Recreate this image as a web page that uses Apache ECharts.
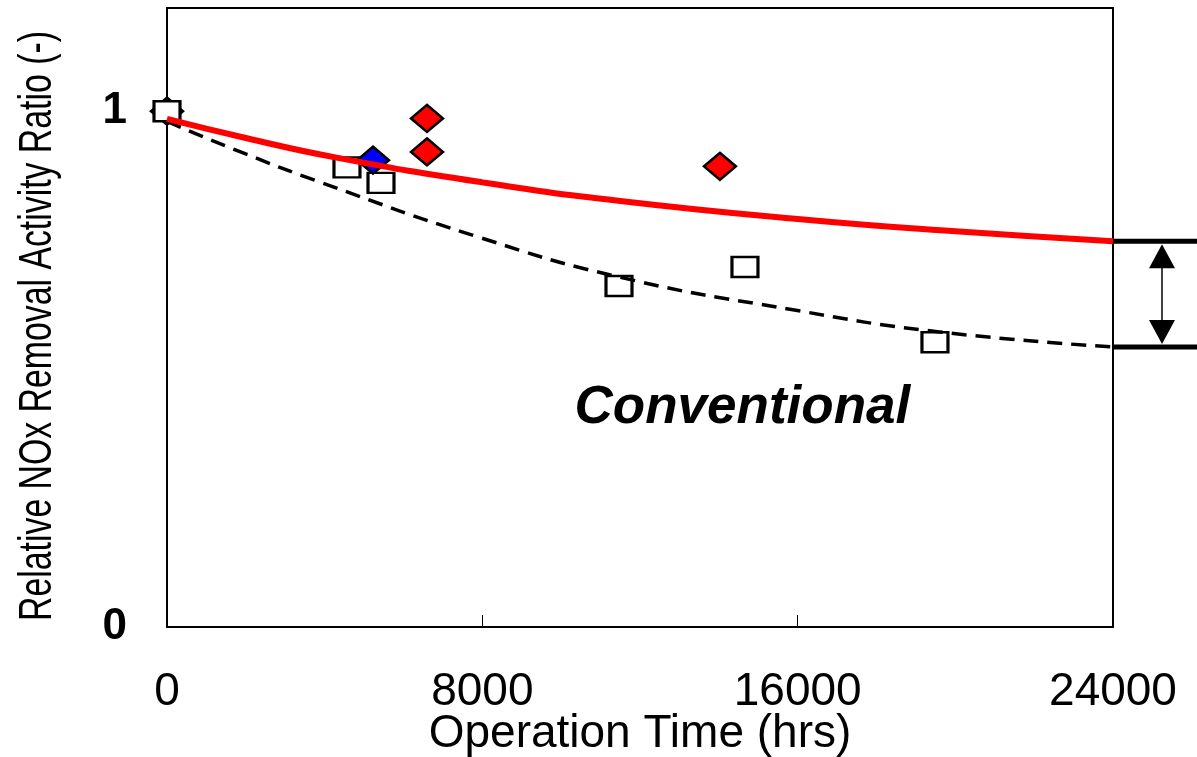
<!DOCTYPE html>
<html>
<head>
<meta charset="utf-8">
<script src="https://cdn.jsdelivr.net/npm/echarts@6/dist/echarts.min.js"></script>
<style>
  html, body { margin: 0; padding: 0; background: #fff; }
  #main { width: 1197px; height: 757px; }
</style>
</head>
<body>
<div id="main"></div>
<script>
// tick labels
var xTicks = [0, 8000, 16000, 24000];
var yTicks = [0, 1];

// measured points [hrs, ratio]
var conventionalPts = [[0, 1.0], [4566, 0.891], [5429, 0.861], [11467, 0.661], [14663, 0.698], [19483, 0.552]];
var newRedPts = [[0, 1.0], [6596, 0.986], [6596, 0.921], [14028, 0.893]];
var newBluePts = [[5226, 0.905]];

// fitted curves
var newCurve = [[0, 0.985], [2000, 0.948], [4300, 0.91], [8000, 0.862], [11500, 0.826], [16000, 0.791], [20000, 0.767], [24000, 0.748]];
var convCurve = [[0, 0.98], [1900, 0.92], [3900, 0.862], [7900, 0.756], [11500, 0.678], [15800, 0.616], [19600, 0.572], [24000, 0.543]];

var chart = echarts.init(document.getElementById('main'));
var font = 'Liberation Sans, Arial, sans-serif';

var option = {
  animation: false,
  backgroundColor: '#fff',
  grid: {
    left: 167, right: 84, top: 8, bottom: 130,
    containLabel: false, outerBoundsMode: 'none',
    show: true, borderColor: '#000', borderWidth: 2
  },
  xAxis: {
    type: 'value',
    min: 0, max: 24000, interval: 8000,
    name: 'Operation Time (hrs)',
    nameLocation: 'middle',
    nameGap: 84,
    nameMoveOverlap: false,
    nameTextStyle: { fontFamily: font, fontSize: 46, color: '#000' },
    axisLine: { lineStyle: { color: '#000', width: 2 } },
    axisTick: { inside: true, length: 12, lineStyle: { color: '#000', width: 1 } },
    splitLine: { show: false },
    axisLabel: {
      margin: 42, fontFamily: font, fontSize: 46, color: '#000',
      formatter: function (v) { return xTicks.indexOf(v) >= 0 ? String(v) : ''; }
    }
  },
  yAxis: {
    type: 'value',
    min: 0, max: 1.2, interval: 1,
    axisLine: { lineStyle: { color: '#000', width: 2 } },
    axisTick: { show: false },
    splitLine: { show: false },
    axisLabel: {
      margin: 40, fontFamily: font, fontSize: 44, fontWeight: 'bold', color: '#000',
      formatter: function (v) { return yTicks.indexOf(v) >= 0 ? String(v) : ''; }
    }
  },
  series: [
    {
      type: 'scatter', data: newRedPts, symbol: 'diamond', symbolSize: [32, 27], z: 2,
      itemStyle: { color: '#ff0000', borderColor: '#000', borderWidth: 2.5, opacity: 1 }
    },
    {
      type: 'scatter', data: conventionalPts, symbol: 'rect', symbolSize: [26, 20], z: 3,
      itemStyle: { color: '#fff', borderColor: '#000', borderWidth: 2.8, opacity: 1 }
    },
    {
      type: 'scatter', data: newBluePts, symbol: 'diamond', symbolSize: [32, 27], z: 4,
      itemStyle: { color: '#0000ff', borderColor: '#000', borderWidth: 2.5, opacity: 1 }
    },
    {
      type: 'line', data: convCurve, smooth: true, showSymbol: false, z: 5,
      lineStyle: { color: '#000', width: 3.5, type: [15, 9] }
    },
    {
      type: 'line', data: newCurve, smooth: true, showSymbol: false, z: 6,
      lineStyle: { color: '#ff0000', width: 6 }
    }
  ]
};
chart.setOption(option);

// annotations placed from the axis scales
var pTop = chart.convertToPixel({ gridIndex: 0 }, [24000, newCurve[newCurve.length - 1][1]]);
var pBot = chart.convertToPixel({ gridIndex: 0 }, [24000, convCurve[convCurve.length - 1][1]]);
var ax = pTop[0] + 49;
var textPos = chart.convertToPixel({ gridIndex: 0 }, [14800, 0.43]);

chart.setOption({
  graphic: [
    {
      type: 'text', x: 38, y: 326, rotation: Math.PI / 2, scaleX: 0.735,
      style: {
        text: 'Relative NOx Removal Activity Ratio (-)',
        font: '46px ' + font, fill: '#000', align: 'center', verticalAlign: 'middle'
      }
    },
    {
      type: 'text', x: textPos[0] - 8, y: textPos[1] + 3,
      style: {
        text: 'Conventional', font: 'italic bold 53px ' + font, fill: '#000',
        align: 'center', verticalAlign: 'middle'
      }
    },
    { type: 'line', shape: { x1: pTop[0], y1: pTop[1], x2: 1197, y2: pTop[1] }, style: { stroke: '#000', lineWidth: 5 } },
    { type: 'line', shape: { x1: pBot[0], y1: pBot[1], x2: 1197, y2: pBot[1] }, style: { stroke: '#000', lineWidth: 5 } },
    { type: 'line', shape: { x1: ax, y1: pTop[1] + 20, x2: ax, y2: pBot[1] - 20 }, style: { stroke: '#000', lineWidth: 1.5 } },
    { type: 'polygon', shape: { points: [[ax, pTop[1] + 3], [ax - 13, pTop[1] + 27], [ax + 13, pTop[1] + 27]] }, style: { fill: '#000' } },
    { type: 'polygon', shape: { points: [[ax, pBot[1] - 3], [ax - 13, pBot[1] - 27], [ax + 13, pBot[1] - 27]] }, style: { fill: '#000' } }
  ]
});
</script>
</body>
</html>
